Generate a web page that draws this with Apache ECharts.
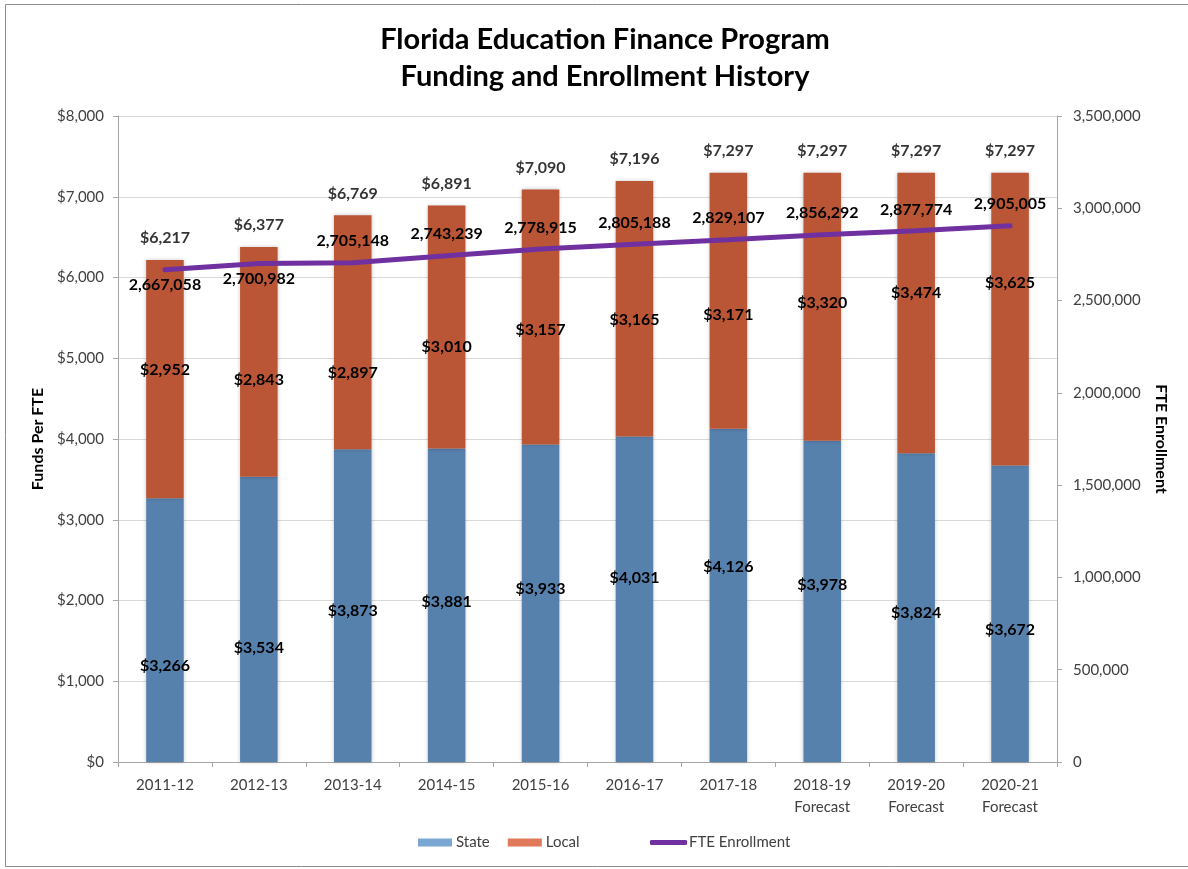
<!DOCTYPE html>
<html>
<head>
<meta charset="utf-8">
<script src="https://cdn.jsdelivr.net/npm/echarts@6/dist/echarts.min.js"></script>
<style>
  html, body { margin: 0; padding: 0; background: #fff; }
  #main { width: 1188px; height: 869px; }
</style>
</head>
<body>
<div id="main"></div>
<script>
// 年度
const years = ['2011-12', '2012-13', '2013-14', '2014-15', '2015-16', '2016-17', '2017-18',
  '2018-19\nForecast', '2019-20\nForecast', '2020-21\nForecast']
// 州拨款 / 地方拨款（每 FTE）
const stateFunds = [3266, 3534, 3873, 3881, 3933, 4031, 4126, 3978, 3824, 3672]
const localFunds = [2952, 2843, 2897, 3010, 3157, 3165, 3171, 3320, 3474, 3625]
const totalFunds = [6217, 6377, 6769, 6891, 7090, 7196, 7297, 7297, 7297, 7297]
// FTE 人数
const enrollment = [2667058, 2700982, 2705148, 2743239, 2778915, 2805188, 2829107, 2856292, 2877774, 2905005]
// 左右轴刻度
const fundTicks = [0, 8000, 1000]
const fteTicks = [0, 3500000, 500000]

// 标签微调（原图里标签被手动挪过）
const stateShift = [36, 29, 5, -3, -14, -21, -29, -17, 5, 16]
const localShift = [-9, 18, 41, 20, 13, 11, 14, -4, -20, -36]
const ftePlace = ['bottom', 'bottom', 'top', 'top', 'top', 'top', 'top', 'top', 'top', 'top']

const FONT = 'Lato, "Open Sans", sans-serif'
const money = v => '$' + Number(v).toLocaleString('en-US')
const labelBase = { show: true, color: '#000', fontFamily: FONT, fontWeight: 'bold', fontSize: 16 }

const chart = echarts.init(document.getElementById('main'), null, { renderer: 'canvas' })
chart.setOption({
  animation: false,
  textStyle: { fontFamily: FONT },
  title: {
    text: 'Florida Education Finance Program\nFunding and Enrollment History',
    left: 600,
    textAlign: 'center',
    top: 16,
    textStyle: { fontFamily: FONT, fontSize: 29, fontWeight: 'bold', color: '#000', lineHeight: 37 }
  },
  graphic: [{
    type: 'rect',
    shape: { x: 5.5, y: 4.5, width: 1200, height: 862 },
    style: { fill: 'none', stroke: '#8c8c8c', lineWidth: 1 },
    silent: true
  }],
  legend: [
    {
      left: 418,
      top: 835,
      padding: 0,
      itemWidth: 34,
      itemHeight: 8,
      itemGap: 18,
      icon: 'rect',
      textStyle: { fontFamily: FONT, fontSize: 15, color: '#404040', padding: [0, 0, 0, -1] },
      data: [
        { name: 'State', itemStyle: { color: '#7ba7d4' } },
        { name: 'Local', itemStyle: { color: '#e0795a' } }
      ]
    },
    {
      left: 650,
      top: 835,
      padding: 0,
      itemWidth: 37,
      itemHeight: 5,
      icon: 'roundRect',
      textStyle: { fontFamily: FONT, fontSize: 15, color: '#404040', padding: [0, 0, 0, -3] },
      data: ['FTE Enrollment']
    }
  ],
  grid: { left: 118, right: 131, top: 116, bottom: 107 },
  xAxis: {
    type: 'category',
    data: years,
    axisLine: { lineStyle: { color: '#a6a6a6' } },
    axisTick: { show: true, length: 5, lineStyle: { color: '#a6a6a6' } },
    axisLabel: { color: '#404040', fontSize: 15, fontFamily: FONT, margin: 12, lineHeight: 22 }
  },
  yAxis: [
    {
      type: 'value',
      min: fundTicks[0],
      max: fundTicks[1],
      interval: fundTicks[2],
      name: 'Funds Per FTE',
      nameLocation: 'middle',
      nameGap: 72,
      nameTextStyle: { fontFamily: FONT, fontSize: 16, fontWeight: 'bold', color: '#000' },
      axisLine: { show: true, lineStyle: { color: '#a6a6a6' } },
      axisTick: { show: true, length: 5, lineStyle: { color: '#a6a6a6' } },
      axisLabel: { color: '#404040', fontSize: 15, fontFamily: FONT, margin: 14, formatter: money },
      splitLine: { lineStyle: { color: '#d9d9d9' } }
    },
    {
      type: 'value',
      min: fteTicks[0],
      max: fteTicks[1],
      interval: fteTicks[2],
      name: 'FTE Enrollment',
      nameLocation: 'middle',
      nameRotate: -90,
      nameGap: 96,
      nameTextStyle: { fontFamily: FONT, fontSize: 16, fontWeight: 'bold', color: '#000' },
      axisLine: { show: true, lineStyle: { color: '#a6a6a6' } },
      axisTick: { show: true, length: 5, lineStyle: { color: '#a6a6a6' } },
      axisLabel: { color: '#404040', fontSize: 15, fontFamily: FONT, margin: 16, formatter: v => v.toLocaleString('en-US') },
      splitLine: { show: false }
    }
  ],
  series: [
    {
      name: 'State',
      type: 'bar',
      stack: 'funds',
      barWidth: '40%',
      itemStyle: { color: '#5781ad', shadowBlur: 4, shadowColor: 'rgba(0,0,0,0.22)' },
      label: { ...labelBase, position: 'inside', formatter: p => money(p.value) },
      data: stateFunds.map((v, i) => ({ value: v, label: { offset: [0, stateShift[i]] } }))
    },
    {
      name: 'Local',
      type: 'bar',
      stack: 'funds',
      barWidth: '40%',
      itemStyle: { color: '#ba5535', shadowBlur: 4, shadowColor: 'rgba(0,0,0,0.22)' },
      label: { ...labelBase, position: 'inside', formatter: p => money(p.value) },
      data: localFunds.map((v, i) => ({ value: v, label: { offset: [0, localShift[i]] } }))
    },
    {
      name: 'Total',
      type: 'scatter',
      symbolSize: 0,
      silent: true,
      z: 5,
      label: { ...labelBase, position: 'top', distance: 14, formatter: p => money(p.value) },
      data: totalFunds
    },
    {
      name: 'FTE Enrollment',
      type: 'line',
      yAxisIndex: 1,
      symbol: 'circle',
      symbolSize: 1,
      showSymbol: true,
      z: 4,
      lineStyle: { color: '#7030a0', width: 5, cap: 'round' },
      itemStyle: { color: '#7030a0' },
      label: { ...labelBase, formatter: p => Number(p.value).toLocaleString('en-US') },
      data: enrollment.map((v, i) => ({
        value: v,
        label: { position: ftePlace[i], distance: ftePlace[i] === 'top' ? 13 : 7 }
      }))
    }
  ]
})
</script>
</body>
</html>
